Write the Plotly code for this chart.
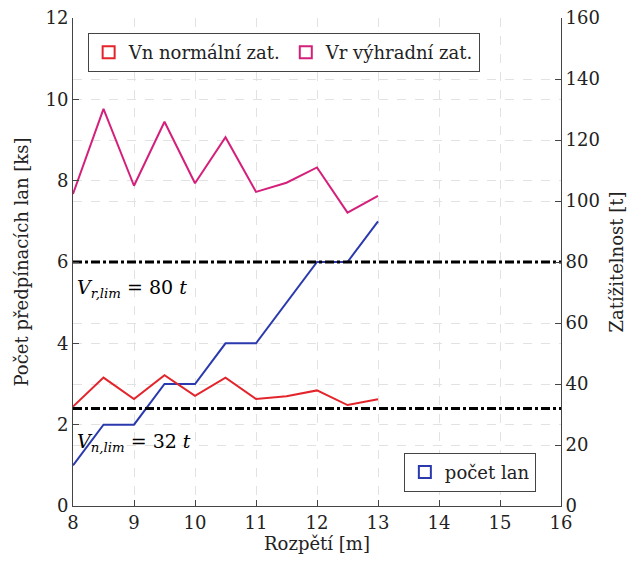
import plotly.graph_objects as go

# Data
rozpeti = [8, 8.5, 9, 9.5, 10, 10.5, 11, 11.5, 12, 12.5, 13]
vn_normalni = [32.6, 42.1, 35.1, 42.9, 36.1, 42.1, 35.1, 36.0, 37.9, 33.1, 35.0]
vr_vyhradni = [102.3, 130.2, 105.0, 126.0, 105.8, 120.9, 103.0, 106.0, 111.0, 96.2, 101.7]
pocet_lan = [1, 2, 2, 3, 3, 4, 4, 5, 6, 6, 7]
vr_lim = 80
vn_lim = 32
x_range = [8, 16]

RED = "#e3242b"
MAG = "#d4207a"
BLUE = "#2a3aae"
FONT = "DejaVu Serif"

fig = go.Figure()

fig.add_trace(go.Scatter(x=x_range, y=[vr_lim, vr_lim], yaxis="y2", mode="lines",
                         line=dict(color="black", width=3, dash="dashdot"), showlegend=False))
fig.add_trace(go.Scatter(x=x_range, y=[vn_lim, vn_lim], yaxis="y2", mode="lines",
                         line=dict(color="black", width=3, dash="dashdot"), showlegend=False))

fig.add_trace(go.Scatter(x=rozpeti, y=vn_normalni, yaxis="y2", mode="lines",
                         line=dict(color=RED, width=2), showlegend=False))
fig.add_trace(go.Scatter(x=rozpeti, y=vr_vyhradni, yaxis="y2", mode="lines",
                         line=dict(color=MAG, width=2), showlegend=False))
fig.add_trace(go.Scatter(x=rozpeti, y=pocet_lan, yaxis="y", mode="lines",
                         line=dict(color=BLUE, width=2), showlegend=False))

# legend entries (box symbols) as rectangle shapes placed outside the visible range
for name, col, leg in [("Vn normální zat.", RED, "legend"),
                       ("Vr výhradní zat.", MAG, "legend"),
                       ("počet lan", BLUE, "legend2")]:
    fig.add_shape(type="rect", xref="x", yref="y", x0=30, x1=31, y0=30, y1=31,
                  fillcolor="white", line=dict(color=col, width=2),
                  name=name, showlegend=True, legend=leg)

fig.add_annotation(x=8.03, y=5.35, xref="x", yref="y", xanchor="left", yanchor="middle",
                   text="<i>V</i><sub><i>r,lim</i></sub> = 80 <i>t</i>", showarrow=False,
                   font=dict(family=FONT, size=19, color="black"))
fig.add_annotation(x=8.03, y=1.55, xref="x", yref="y", xanchor="left", yanchor="middle",
                   text="<i>V</i><sub><i>n,lim</i></sub> = 32 <i>t</i>", showarrow=False,
                   font=dict(family=FONT, size=19, color="black"))

grid = dict(showgrid=True, gridcolor="#e2e2e2", griddash="dash", gridwidth=1)

fig.update_layout(
    width=633, height=561,
    margin=dict(l=73, r=72, t=18, b=55),
    paper_bgcolor="white", plot_bgcolor="white",
    font=dict(family=FONT, size=18, color="#222"),
    xaxis=dict(range=x_range, dtick=1, tick0=8, ticks="inside", ticklen=6, automargin=False,
               showline=True, linecolor="#444", linewidth=1, zeroline=False,
               title=dict(text="Rozpětí [m]", font=dict(size=18), standoff=5), **grid),
    yaxis=dict(range=[0, 12], dtick=2, ticks="inside", ticklen=6, automargin=False,
               showline=True, linecolor="#444", linewidth=1, zeroline=False,
               title=dict(text="Počet předpínacích lan [ks]", font=dict(size=18), standoff=12), **grid),
    yaxis2=dict(range=[0, 160], dtick=20, ticks="inside", ticklen=6, overlaying="y", side="right",
                showline=True, linecolor="#444", linewidth=1, zeroline=False, automargin=False,
                title=dict(text="Zatížitelnost [t]", font=dict(size=18), standoff=11), **grid),
    legend=dict(orientation="h", x=0.03, y=0.969, xanchor="left", yanchor="top",
                bgcolor="white", bordercolor="#444", borderwidth=1,
                font=dict(family=FONT, size=18), itemwidth=30, tracegroupgap=0, itemclick=False),
    legend2=dict(orientation="h", x=0.678, y=0.029, xanchor="left", yanchor="bottom",
                 bgcolor="white", bordercolor="#444", borderwidth=1,
                 font=dict(family=FONT, size=18), itemwidth=30, itemclick=False),
)

fig.write_html("out.html", config={"displayModeBar": False},
               post_script="document.body.style.margin='0';")
